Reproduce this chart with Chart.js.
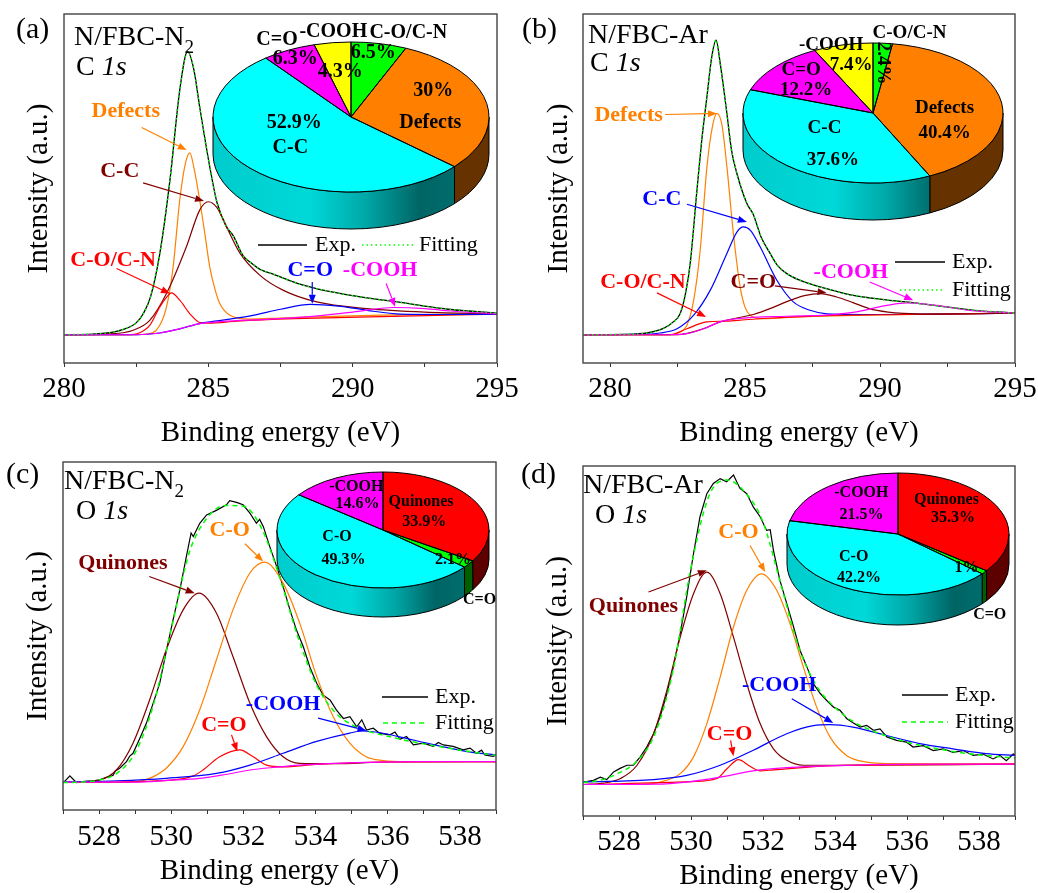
<!DOCTYPE html>
<html>
<head>
<meta charset="utf-8">
<script src="https://cdn.jsdelivr.net/npm/chart.js@4.4.0/dist/chart.umd.min.js"></script>
<style>
  body { margin: 0; background: #fff; width: 1038px; height: 893px; overflow: hidden; position: relative; }
  canvas { position: absolute; }
</style>
</head>
<body>
<canvas id="pa" width="519" height="448" style="left:0;top:0"></canvas>
<canvas id="pb" width="519" height="448" style="left:519px;top:0"></canvas>
<canvas id="pc" width="519" height="445" style="left:0;top:448px"></canvas>
<canvas id="pd" width="519" height="445" style="left:519px;top:448px"></canvas>
<canvas id="pieA"></canvas>
<canvas id="pieB"></canvas>
<canvas id="pieC"></canvas>
<canvas id="pieD"></canvas>
<script>
const FONT = "'Liberation Serif','Times New Roman',serif";
const ORANGE = '#FF8000', BROWN = '#800000', RED = '#FF0000', BLUE = '#0000FF', MAGENTA = '#FF00FF', GREEN = '#00FF00';

// --- tick labels ---
const ticksC1s = [280, 285, 290, 295];
const ticksO1s = [528, 530, 532, 534, 536, 538];

// --- (a) N/FBC-N2, C 1s : [binding energy, intensity %] ---
const expA = [[280,8.1],[281,8.3],[281.5,8.6],[282,9.5],[282.5,11.5],[282.75,14.2],[283,19],[283.32,31.4],[283.67,52.4],[284.01,78.2],[284.28,89.2],[284.5,84],[284.7,73.4],[285.05,56.2],[285.3,46],[285.63,39.0],[285.86,36.5],[286.2,30.8],[286.5,28.6],[286.8,26.8],[287.2,25.6],[287.6,24.3],[288.2,22.5],[288.8,21.2],[289.33,20.3],[290,19.3],[290.8,18.3],[291.65,17.4],[292.5,16.3],[293.3,15.4],[294,14.9],[295,14.3]];
const fitA = expA;
const defectsA = [[280,8.1],[282.5,8.1],[282.86,8.3],[283.2,9.4],[283.55,16],[283.78,27.5],[284.01,46.7],[284.2,57],[284.36,60.2],[284.5,56],[284.7,46.7],[284.88,37],[285.05,27.5],[285.25,20.5],[285.4,17],[285.75,13.7],[286.44,12.6],[287.5,12.9],[289,13.3],[291,13.7],[295,14.1]];
const ccA = [[280,8.1],[281.5,8.3],[282.4,9.4],[282.97,12.2],[283.55,19.9],[284.24,33.3],[284.7,43.8],[285.0,46.2],[285.3,44.5],[285.63,39.0],[286.1,31.4],[286.79,25.1],[287.6,20.8],[288.75,17.5],[290.49,15.6],[292.5,14.6],[295,14.1]];
const coA = [[280,8.1],[282.2,8.1],[282.6,8.6],[282.97,10.8],[283.32,16.1],[283.55,18.8],[283.72,20.1],[284.01,18],[284.36,14.1],[284.7,11.6],[285,11.4],[286,12.0],[288,12.7],[291,13.3],[295,14.0]];
const c2oA = [[280,8.1],[282.5,8.1],[283.32,8.6],[284.01,9.8],[284.7,11.3],[285.5,12.3],[286.5,13.6],[287.5,15.4],[288.53,16.8],[289.5,16.3],[290.49,15.1],[291.65,14.0],[293,13.9],[295,14.0]];
const coohA = [[280,8.1],[282.5,8.1],[283.32,8.6],[284.01,9.8],[284.7,11.3],[285.5,11.9],[287,12.5],[288.5,13.3],[290,14.6],[291.4,15.9],[292.5,15.6],[293.4,14.9],[295,14.1]];

// --- (b) N/FBC-Ar, C 1s ---
const expB = [[279,8.1],[280.5,8.2],[281.37,8.6],[281.98,9.9],[282.3,11.5],[282.6,14.2],[282.8,20],[282.97,28.5],[283.22,49.5],[283.4,64],[283.59,76.3],[283.77,87.8],[283.93,92.5],[284.08,85.9],[284.33,71.5],[284.5,61],[284.7,54.3],[285.07,45.7],[285.31,42.5],[285.6,36],[285.93,31.4],[286.2,28],[286.55,25.6],[287,23.8],[287.78,21.8],[288.4,20.5],[289.01,19.4],[290,18.3],[291.48,17.0],[292.5,16.0],[293.5,15.1],[295,14.3]];
const fitB = expB;
const defectsB = [[279,8.1],[282.2,8.1],[282.6,8.9],[282.85,10.8],[283.1,18],[283.34,32.3],[283.59,56.2],[283.8,68],[283.96,71.5],[284.15,68],[284.33,56.2],[284.57,37.1],[284.82,21.8],[285.0,16],[285.19,13.7],[285.68,12.7],[287,13.2],[290,13.8],[295,14.3]];
const ccB = [[279,8.1],[281,8.2],[281.86,8.6],[282.48,9.8],[283.1,13.7],[283.71,20.8],[284.33,31.4],[284.7,37.5],[284.94,39.0],[285.2,38],[285.56,33.3],[286.18,23.7],[286.79,17.5],[287.41,15.1],[288.03,14.1],[290,13.9],[295,14.3]];
const c2oB = [[279,8.1],[282.5,8.1],[283.46,9.8],[284.08,11.8],[284.7,12.9],[285.31,13.9],[286.0,15.8],[286.55,17.6],[287.2,19.3],[287.8,19.9],[288.4,18.9],[289.0,17.3],[289.6,15.6],[290.3,14.6],[290.87,14.2],[292,14.0],[295,14.3]];
const coB = [[279,8.1],[282.2,8.1],[282.85,9.8],[283.3,11.2],[283.59,11.8],[284.33,12.0],[285.0,12.4],[286,12.9],[288,13.6],[291,13.9],[295,14.3]];
const coohB = [[279,8.1],[282.2,8.1],[282.85,8.4],[283.46,9.8],[284.08,11.8],[284.7,12.7],[286.55,13.4],[288,13.7],[289.0,14.5],[290.26,16.5],[291,17.2],[292.1,16.5],[293.3,15.1],[295,14.3]];

// --- (c) N/FBC-N2, O 1s ---
const expC = [[527.0,7.7],[527.19,9.8],[527.37,7.9],[527.6,8.2],[527.83,8.4],[528.0,8.6],[528.2,9.4],[528.39,10.0],[528.45,11.2],[528.57,12.0],[528.76,13.9],[528.85,15.5],[528.94,16.3],[529.13,20.6],[529.31,24.9],[529.5,30.7],[529.68,36.4],[529.87,46.0],[530.05,54.6],[530.24,63.3],[530.42,72.9],[530.55,79.6],[530.61,78.6],[530.79,82.4],[530.98,84.8],[531.25,86.1],[531.53,87.7],[531.62,88.9],[531.81,88.4],[531.99,87.7],[532.18,85.3],[532.36,82.4],[532.45,83.5],[532.55,81.5],[532.73,75.7],[532.92,70.0],[533.1,64.2],[533.29,57.5],[533.47,51.7],[533.66,46.9],[533.84,41.1],[534.03,36.4],[534.21,33.0],[534.4,31.6],[534.58,28.7],[534.77,26.3],[534.95,26.8],[535.14,23.9],[535.28,25.9],[535.41,23.0],[535.6,23.5],[535.78,22.0],[536.06,21.6],[536.2,22.4],[536.34,20.3],[536.52,21.1],[536.71,18.7],[536.98,19.2],[537.26,18.3],[537.4,19.4],[537.54,18.7],[537.81,18.3],[538.09,17.3],[538.28,17.8],[538.46,16.3],[538.6,17.2],[538.69,15.8],[538.92,15.4],[539.0,15.8]];
const fitC = [[527,7.9],[527.5,8.0],[528,8.6],[528.5,10.6],[529,16.5],[529.5,30],[530,52],[530.5,74],[531,84],[531.5,87.5],[532,87.3],[532.5,81],[533,67],[533.5,50],[534,36.5],[534.5,28.5],[535,24.5],[535.5,22.5],[536,21.2],[536.5,20],[537,19],[537.5,18.1],[538,17.2],[538.5,16.4],[539,15.7]];
const quinC = [[527,7.9],[528,8.6],[528.48,11.5],[528.94,19.2],[529.4,31.6],[529.86,46],[530.33,57.5],[530.77,62.3],[531.25,56.6],[531.71,44.1],[532.18,30.7],[532.64,21.1],[533.1,15.3],[533.56,13.4],[534.49,13.3],[536,13.8],[539,13.9]];
const coC = [[527,7.9],[529,8.1],[529.4,9.1],[529.86,12.0],[530.33,18.2],[530.79,28.8],[531.25,43.1],[531.71,57.5],[532.18,68.1],[532.59,71.2],[533.1,65.2],[533.56,53.7],[534.03,38.4],[534.49,26.8],[534.95,19.2],[535.4,15.3],[535.87,14.2],[536.5,13.9],[539,13.9]];
const c2oC = [[527,7.9],[530,8.6],[530.61,9.8],[530.88,11.5],[531.34,15.3],[531.9,17.3],[532.27,15.3],[532.64,12.9],[533.1,12.4],[534,13.1],[536,13.8],[539,13.9]];
const coohC = [[527,8.1],[528.5,8.4],[529.86,9.1],[531.25,10.5],[532.18,12.9],[533.1,16.3],[534.03,19.7],[534.95,22.1],[535.3,22.7],[535.8,22.2],[536.3,21.1],[537.3,18.7],[538.2,16.8],[539,15.8]];
const bgC = [[527,8.0],[529,8.0],[529.9,8.5],[530.79,9.1],[531.5,10.2],[532.18,11.5],[532.9,12.3],[533.56,12.9],[534.5,13.4],[535.4,13.7],[537,13.9],[539,13.9]];

// --- (d) N/FBC-Ar, O 1s ---
const expD = [[527.02,9.7],[527.29,10.2],[527.48,11.1],[527.66,10.4],[527.85,12.6],[528.03,13.6],[528.22,14.5],[528.4,14.5],[528.59,16.9],[528.77,19.7],[528.96,23.5],[529.14,28.3],[529.33,35.0],[529.51,42.6],[529.7,52.1],[529.88,62.6],[530.07,75.0],[530.25,85.5],[530.44,92.1],[530.62,95.0],[530.81,96.4],[530.99,95.5],[531.18,97.4],[531.36,93.6],[531.55,92.1],[531.73,88.3],[531.92,85.5],[532.1,81.6],[532.2,81.8],[532.29,75.9],[532.47,67.3],[532.66,60.7],[532.85,54.0],[533.03,47.3],[533.22,42.6],[533.4,37.8],[533.59,35.0],[533.77,33.0],[533.96,31.1],[534.14,30.2],[534.33,27.8],[534.51,26.6],[534.7,25.4],[534.88,25.9],[535.07,24.5],[535.25,24.9],[535.44,22.6],[535.71,21.6],[535.99,21.1],[536.17,19.7],[536.45,20.1],[536.73,18.7],[537.0,19.2],[537.28,18.2],[537.56,18.7],[537.84,17.3],[538.11,17.7],[538.39,16.3],[538.58,17.3],[538.76,15.8],[538.95,17.7],[539,17.5]];
const fitD = [[527,9.5],[527.5,10.3],[528,12.3],[528.5,15.7],[529,23.5],[529.5,41.5],[530,71],[530.5,91.5],[531,96],[531.5,92.5],[532,84],[532.5,66],[533,48],[533.5,37],[534,31],[534.5,27],[535,24.5],[535.5,22.6],[536,21.1],[536.5,19.9],[537,18.9],[537.5,18.1],[538,17.5],[538.5,17],[539,16.6]];
const quinD = [[527,9.0],[527.57,9.4],[528.04,10.7],[528.5,14.5],[528.96,23.5],[529.33,35.9],[529.7,51.1],[530.07,63.5],[530.44,69.7],[530.81,63.5],[531.18,51.1],[531.55,37.8],[531.92,26.4],[532.29,19.2],[532.66,15.9],[533.12,14.5],[534,14.5],[539,14.8]];
const coD = [[527,9.0],[528.5,9.0],[529.14,9.7],[529.7,12.1],[530.07,16.9],[530.44,26.4],[530.81,39.7],[531.18,54.0],[531.55,64.5],[531.96,69.2],[532.38,64.5],[532.75,55.0],[533.12,42.6],[533.49,31.1],[533.86,22.6],[534.32,17.3],[534.87,15.4],[535.5,15.0],[539,14.9]];
const c2oD = [[527,9.0],[530,9.8],[530.72,10.7],[531.0,13.5],[531.32,16.1],[531.64,14.2],[531.92,12.9],[532.3,13.2],[534,14.4],[539,14.8]];
const coohD = [[527,9.7],[528.96,10.4],[529.88,11.6],[530.81,14.5],[531.73,18.8],[532.66,23.5],[533.4,25.8],[533.86,26.1],[534.5,25.4],[535.43,23.0],[536.35,20.7],[537.28,19.2],[538.2,17.8],[539,17.3]];
const bgD = [[527,9.0],[529,9.1],[529.88,9.7],[530.81,11.1],[531.73,12.9],[532.66,13.8],[534.5,14.5],[536.5,14.8],[539,14.8]];

// --- pie insets (percent) ---
const pieNamesC1s = ['C-O/C-N', 'Defects', 'C-C', 'C=O', '-COOH'];
const pieA = [6.5, 30, 52.9, 6.3, 4.3];
const pieB = [2.4, 40.4, 37.6, 12.2, 7.4];
const pieNamesO1s = ['Quinones', 'C=O', 'C-O', '-COOH'];
const pieC = [33.9, 2.1, 49.3, 14.6];
const pieD = [35.3, 1, 42.2, 21.5];

// ---------------------------------------------------------------
function arrow(ctx, x1, y1, x2, y2, color) {
  const a = Math.atan2(y2 - y1, x2 - x1), L = 9, W = 3.5;
  const bx = x2 - L * Math.cos(a), by = y2 - L * Math.sin(a);
  ctx.strokeStyle = color; ctx.fillStyle = color; ctx.lineWidth = 1.2;
  ctx.beginPath(); ctx.moveTo(x1, y1); ctx.lineTo(bx, by); ctx.stroke();
  ctx.beginPath(); ctx.moveTo(x2, y2);
  ctx.lineTo(bx + W * Math.sin(a), by - W * Math.cos(a));
  ctx.lineTo(bx - W * Math.sin(a), by + W * Math.cos(a));
  ctx.closePath(); ctx.fill();
}

function decoPlugin(cfg) {
  return {
    id: 'deco',
    afterDraw(chart) {
      const ctx = chart.ctx, xs = chart.scales.x, ys = chart.scales.y, a = chart.chartArea;
      ctx.save();
      ctx.strokeStyle = '#444'; ctx.lineWidth = 1.4;
      ctx.strokeRect(a.left, a.top, a.right - a.left, a.bottom - a.top);

      // peak call-outs
      ctx.font = 'bold 22px ' + FONT; ctx.textAlign = 'center'; ctx.textBaseline = 'middle';
      cfg.notes.forEach(n => {
        arrow(ctx, xs.getPixelForValue(n.from[0]), ys.getPixelForValue(n.from[1]),
                   xs.getPixelForValue(n.to[0]), ys.getPixelForValue(n.to[1]), n.c);
        ctx.fillStyle = n.c;
        ctx.fillText(n.t, xs.getPixelForValue(n.at[0]), ys.getPixelForValue(n.at[1]));
      });

      // legend
      const lg = cfg.legend;
      ctx.lineWidth = 1.3; ctx.strokeStyle = '#000'; ctx.setLineDash([]);
      ctx.beginPath(); ctx.moveTo(lg.exp[0], lg.exp[2]); ctx.lineTo(lg.exp[1], lg.exp[2]); ctx.stroke();
      ctx.strokeStyle = GREEN; ctx.lineWidth = 1.6; ctx.setLineDash(cfg.fitDash);
      ctx.beginPath(); ctx.moveTo(lg.fit[0], lg.fit[2]); ctx.lineTo(lg.fit[1], lg.fit[2]); ctx.stroke();
      ctx.setLineDash([]);
      ctx.font = '22px ' + FONT; ctx.fillStyle = '#000'; ctx.textAlign = 'left';
      ctx.fillText('Exp.', lg.expText[0], lg.expText[1]);
      ctx.fillText('Fitting', lg.fitText[0], lg.fitText[1]);

      // headings
      ctx.textBaseline = 'alphabetic';
      cfg.heads.forEach(h => {
        let x = h[0];
        h[2].forEach(seg => {
          ctx.font = seg[1] + ' ' + FONT;
          ctx.fillText(seg[0], x, h[1] + (seg[2] || 0));
          x += ctx.measureText(seg[0]).width;
        });
      });
      ctx.restore();
    }
  };
}

function xpsChart(id, cfg) {
  const datasets = cfg.series.map(s => ({
    data: s.pts.map(p => ({ x: p[0], y: p[1] })),
    borderColor: s.c, borderWidth: s.w || 1.2, borderDash: s.dash || [],
    pointRadius: 0, fill: false, tension: 0,
    cubicInterpolationMode: s.raw ? 'default' : 'monotone'
  }));
  return new Chart(document.getElementById(id), {
    type: 'line',
    data: { datasets },
    plugins: [decoPlugin(cfg)],
    options: {
      responsive: false, animation: false, events: [],
      layout: { padding: cfg.pad },
      plugins: { legend: { display: false }, tooltip: { enabled: false } },
      scales: {
        x: {
          type: 'linear', min: cfg.xr[0], max: cfg.xr[1],
          afterFit: s => { s.height = cfg.xh; s.paddingLeft = 0; s.paddingRight = 0; },
          ticks: {
            stepSize: cfg.step, includeBounds: false, autoSkip: false, maxRotation: 0, minRotation: 0,
            color: '#000', padding: cfg.tp, font: { family: FONT, size: 29 },
            callback: v => cfg.ticks.includes(v) ? String(v) : ''
          },
          grid: { drawOnChartArea: false, drawTicks: true, tickLength: 4, color: '#333', lineWidth: 1 },
          border: { display: false },
          title: { display: true, text: 'Binding energy (eV)', color: '#000',
                   font: { family: FONT, size: 29, lineHeight: 1 }, padding: { top: 0, bottom: cfg.tb } }
        },
        y: {
          min: 0, max: 100,
          afterFit: s => { s.width = cfg.yw; },
          ticks: { display: false }, grid: { display: false }, border: { display: false },
          title: { display: true, text: 'Intensity (a.u.)', color: '#000',
                   font: { family: FONT, size: 29, lineHeight: 1 }, padding: { top: cfg.yp, bottom: 0 } }
        }
      }
    }
  });
}

function pie3d(id, cx, cy, rx, ry, depth, names, vals, cols, sides, labels, fs) {
  const pad = 30, S = Math.round(2 * rx + 2 * pad);
  const cv = document.getElementById(id);
  cv.width = S; cv.height = S;
  cv.style.left = (cx - S / 2) + 'px'; cv.style.top = (cy - S / 2) + 'px';
  let base;
  new Chart(cv, {
    type: 'pie',
    data: { labels: names, datasets: [{ data: vals, backgroundColor: cols, borderWidth: 0, clip: false }] },
    options: {
      responsive: false, animation: false, events: [], layout: { padding: pad },
      plugins: { legend: { display: false }, tooltip: { enabled: false } }
    },
    plugins: [{
      id: 'pie3d',
      beforeDatasetsDraw(chart) {
        const ctx = chart.ctx, arcs = chart.getDatasetMeta(0).data;
        const { x, y, outerRadius: r } = arcs[0];
        const k = ry / r, d = depth / k;
        base = ctx.getTransform();
        ctx.save();
        ctx.translate(x, y); ctx.scale(1, k); ctx.translate(-x, -y);
        arcs.forEach((a, i) => {
          const s = Math.max(a.startAngle, 0), e = Math.min(a.endAngle, Math.PI);
          if (e <= s) return;
          ctx.beginPath();
          ctx.arc(x, y, r, s, e);
          ctx.lineTo(x + r * Math.cos(e), y + d + r * Math.sin(e));
          ctx.arc(x, y + d, r, e, s, true);
          ctx.closePath();
          let f = sides[i];
          if (f === 'grad') {
            f = ctx.createLinearGradient(x - r, 0, x + r, 0);
            f.addColorStop(0, '#00cccc'); f.addColorStop(0.35, '#00d8d8');
            f.addColorStop(0.55, '#00a8a8'); f.addColorStop(0.75, '#006464'); f.addColorStop(1, '#007474');
          }
          ctx.fillStyle = f; ctx.fill();
          ctx.save(); ctx.setTransform(base); ctx.strokeStyle = '#000'; ctx.lineWidth = 1; ctx.stroke(); ctx.restore();
        });
      },
      afterDatasetsDraw(chart) {
        const ctx = chart.ctx, arcs = chart.getDatasetMeta(0).data;
        const { x, y, outerRadius: r } = arcs[0];
        arcs.forEach(a => {
          ctx.beginPath(); ctx.moveTo(x, y);
          ctx.arc(x, y, r, a.startAngle, a.endAngle);
          ctx.closePath();
          ctx.save(); ctx.setTransform(base); ctx.strokeStyle = '#000'; ctx.lineWidth = 1; ctx.stroke(); ctx.restore();
        });
        ctx.restore();
        ctx.save();
        ctx.fillStyle = '#000'; ctx.font = 'bold ' + fs + 'px ' + FONT;
        ctx.textAlign = 'center'; ctx.textBaseline = 'middle';
        labels.forEach(l => {
          const t = l[0] === 'v' ? vals[l[1]] + '%' : names[l[1]];
          if (l[4]) {
            ctx.save(); ctx.translate(x + l[2], y + l[3]); ctx.rotate(l[4]); ctx.fillText(t, 0, 0); ctx.restore();
          } else ctx.fillText(t, x + l[2], y + l[3]);
        });
        ctx.restore();
      }
    }]
  });
}

// ---------------------------------------------------------------
xpsChart('pa', {
  xr: [280, 295], step: 2.5, ticks: ticksC1s, pad: { left: 0, top: 14, right: 22, bottom: 0 },
  yw: 64, xh: 85, tp: 5, tb: 0.5, yp: 25, fitDash: [1.5, 3],
  series: [
    { pts: fitA, c: GREEN, w: 1.5, dash: [1.5, 3] },
    { pts: coohA, c: MAGENTA }, { pts: c2oA, c: BLUE }, { pts: coA, c: RED },
    { pts: ccA, c: BROWN }, { pts: defectsA, c: ORANGE },
    { pts: expA, c: '#000', w: 1.3 }
  ],
  notes: [
    { t: 'Defects', c: ORANGE, at: [282.14, 72.0], from: [282.69, 67.5], to: [284.25, 61.0] },
    { t: 'C-C', c: BROWN, at: [281.93, 54.8], from: [282.74, 51.6], to: [284.85, 46.4] },
    { t: 'C-O/C-N', c: RED, at: [281.7, 29.5], from: [281.82, 27.1], to: [283.67, 19.9] },
    { t: 'C=O', c: BLUE, at: [288.53, 26.6], from: [288.6, 23.2], to: [288.6, 17.0] },
    { t: '-COOH', c: MAGENTA, at: [290.95, 26.6], from: [291.16, 22.8], to: [291.47, 16.1] }
  ],
  legend: { exp: [258, 307, 245], fit: [362, 413, 245], expText: [315, 245], fitText: [419, 245] },
  heads: [
    [16, 37.5, [['(a)', '30px']]],
    [74, 45, [['N/FBC-N', '28px'], ['2', '19px', 8]]],
    [76, 75, [['C ', '28px'], ['1s', 'italic 28px']]]
  ]
});

xpsChart('pb', {
  xr: [279, 295], step: 2.5, ticks: ticksC1s, pad: { left: 0, top: 14, right: 23, bottom: 0 },
  yw: 64, xh: 85, tp: 5, tb: 0.5, yp: 26, fitDash: [1.5, 3],
  series: [
    { pts: fitB, c: GREEN, w: 1.5, dash: [1.5, 3] },
    { pts: coohB, c: MAGENTA }, { pts: c2oB, c: BROWN }, { pts: coB, c: RED },
    { pts: ccB, c: BLUE }, { pts: defectsB, c: ORANGE },
    { pts: expB, c: '#000', w: 1.3 }
  ],
  notes: [
    { t: 'Defects', c: ORANGE, at: [280.69, 71.0], from: [282.04, 71.2], to: [283.96, 71.5] },
    { t: 'C-C', c: BLUE, at: [281.92, 46.9], from: [282.85, 45.5], to: [285.07, 40.4] },
    { t: 'C-O/C-N', c: RED, at: [281.22, 23.2], from: [281.74, 20.1], to: [283.56, 13.2] },
    { t: 'C=O', c: BROWN, at: [285.31, 23.2], from: [286.11, 22.1], to: [288.02, 20.1] },
    { t: '-COOH', c: MAGENTA, at: [288.92, 26.1], from: [289.62, 23.2], to: [291.23, 18.0] }
  ],
  legend: { exp: [376, 426, 262], fit: [381, 424, 290], expText: [433, 262], fitText: [433, 290] },
  heads: [
    [3, 38, [['(b)', '30px']]],
    [69, 42.7, [['N/FBC-Ar', '28px']]],
    [71, 71, [['C ', '28px'], ['1s', 'italic 28px']]]
  ]
});

xpsChart('pc', {
  xr: [527, 539], step: 1, ticks: ticksO1s, pad: { left: 0, top: 14, right: 23, bottom: 0 },
  yw: 63, xh: 83, tp: 6, tb: 7, yp: 23.5, fitDash: [5, 4],
  series: [
    { pts: fitC, c: GREEN, w: 1.5, dash: [5, 4] },
    { pts: bgC, c: MAGENTA }, { pts: coohC, c: BLUE }, { pts: c2oC, c: RED },
    { pts: coC, c: ORANGE }, { pts: quinC, c: BROWN },
    { pts: expC, c: '#000', w: 1.2, raw: true }
  ],
  notes: [
    { t: 'Quinones', c: BROWN, at: [528.66, 71.0], from: [529.39, 67.1], to: [530.65, 62.3] },
    { t: 'C-O', c: ORANGE, at: [531.62, 80.5], from: [532.04, 76.5], to: [532.55, 71.4] },
    { t: 'C=O', c: RED, at: [531.46, 24.2], from: [531.67, 21.6], to: [531.83, 16.8] },
    { t: '-COOH', c: BLUE, at: [533.1, 30.5], from: [534.07, 26.4], to: [535.41, 22.8] }
  ],
  legend: { exp: [382, 428, 249], fit: [383, 428, 275], expText: [435, 249], fitText: [435, 275] },
  heads: [
    [6, 35.3, [['(c)', '30px']]],
    [64, 41.3, [['N/FBC-N', '28px'], ['2', '19px', 7.5]]],
    [76, 71.3, [['O ', '28px'], ['1s', 'italic 28px']]]
  ]
});

xpsChart('pd', {
  xr: [527, 539], step: 1, ticks: ticksO1s, pad: { left: 0, top: 18, right: 23, bottom: 0 },
  yw: 64, xh: 77, tp: 5, tb: 2, yp: 24.5, fitDash: [5, 4],
  series: [
    { pts: fitD, c: GREEN, w: 1.5, dash: [5, 4] },
    { pts: bgD, c: MAGENTA }, { pts: coohD, c: BLUE }, { pts: c2oD, c: RED },
    { pts: coD, c: ORANGE }, { pts: quinD, c: BROWN },
    { pts: expD, c: '#000', w: 1.2, raw: true }
  ],
  notes: [
    { t: 'Quinones', c: BROWN, at: [528.4, 59.9], from: [528.82, 64.0], to: [530.44, 70.2] },
    { t: 'C-O', c: ORANGE, at: [531.32, 81.1], from: [531.64, 77.3], to: [532.06, 69.7] },
    { t: 'C=O', c: RED, at: [531.07, 23.3], from: [531.1, 21.6], to: [531.18, 17.1] },
    { t: '-COOH', c: BLUE, at: [532.45, 37.3], from: [532.8, 33.5], to: [533.95, 26.6] }
  ],
  legend: { exp: [383, 429, 247], fit: [383, 429, 274], expText: [436, 247], fitText: [436, 274] },
  heads: [
    [2, 35.3, [['(d)', '30px']]],
    [64, 45.3, [['N/FBC-Ar', '28px']]],
    [76, 74.7, [['O ', '28px'], ['1s', 'italic 28px']]]
  ]
});

const colsC1s = [GREEN, ORANGE, '#00FFFF', MAGENTA, '#FFFF00'];
const sidesC1s = ['#006400', '#663300', 'grad', '#880088', '#888800'];
const colsO1s = [RED, GREEN, '#00FFFF', MAGENTA];
const sidesO1s = ['#5c0000', '#006000', 'grad', '#880088'];

pie3d('pieA', 350.7, 117.3, 138, 75, 37, pieNamesC1s, pieA, colsC1s, sidesC1s, [
  ['n', 3, -74, -77.3], ['n', 4, -17.7, -85.6], ['n', 0, 57.3, -84.3],
  ['v', 3, -55.7, -58.3], ['v', 4, -10.7, -45.3], ['v', 0, 22.3, -64.3],
  ['v', 1, 82.3, -26.3], ['n', 1, 79.3, 5.7], ['v', 2, -56.7, 5.7], ['n', 2, -60.7, 30.7]
], 20);

pie3d('pieB', 873.4, 113.3, 130, 70, 37, pieNamesC1s, pieB, colsC1s, sidesC1s, [
  ['n', 0, 36.5, -80], ['n', 4, -41.8, -68.3], ['n', 3, -71.8, -43.3], ['v', 3, -66.8, -23.3],
  ['v', 4, -21.8, -48.3], ['v', 0, 9.8, -50, Math.PI / 2],
  ['n', 1, 71.5, -5], ['v', 1, 71.5, 20], ['n', 2, -48.5, 15], ['v', 2, -40.2, 46.7]
], 19);

pie3d('pieC', 382.7, 530, 106, 58, 29, pieNamesO1s, pieC, colsO1s, sidesO1s, [
  ['n', 3, -26.7, -42.7], ['v', 3, -25.4, -25.7], ['n', 0, 38, -28.3], ['v', 0, 41.3, -8.3],
  ['n', 2, -46, 7.3], ['v', 2, -39.4, 30], ['v', 1, 70, 30], ['n', 1, 96.6, 70]
], 16);

pie3d('pieD', 898.3, 534.3, 111, 61, 30, pieNamesO1s, pieD, colsO1s, sidesO1s, [
  ['n', 3, -36.6, -41], ['v', 3, -36.6, -19.3], ['n', 0, 48.4, -34.3], ['v', 0, 55, -16],
  ['n', 2, -44.3, 22.4], ['v', 2, -39, 44], ['v', 1, 68.4, 34], ['n', 1, 91.7, 80.7]
], 16);
</script>
</body>
</html>
